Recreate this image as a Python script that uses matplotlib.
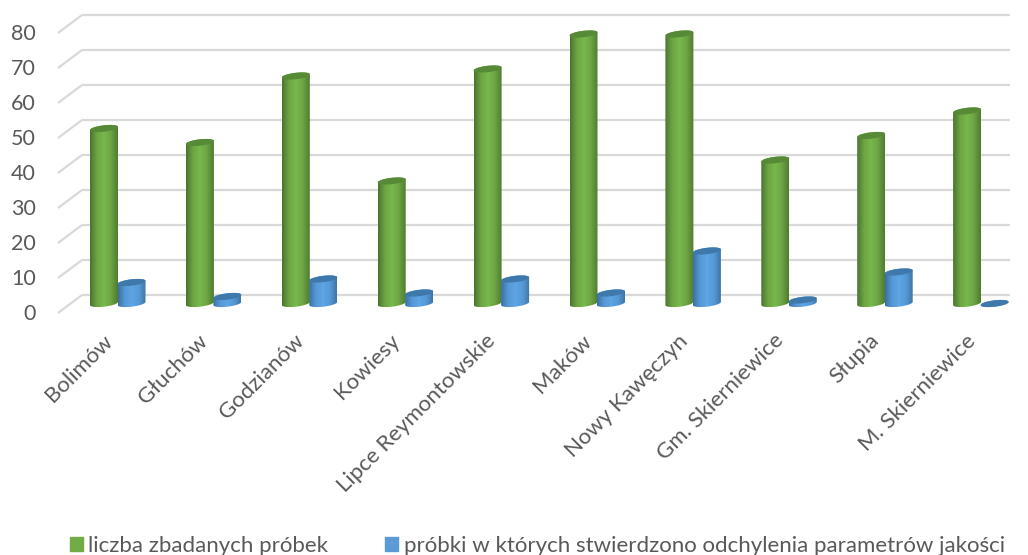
import numpy as np
import matplotlib
matplotlib.use('Agg')
import matplotlib.pyplot as plt
from matplotlib.colors import LinearSegmentedColormap
from matplotlib.patches import Patch, Polygon

plt.rcParams['font.family'] = ['Lato', 'DejaVu Sans']

gminy = ['Bolimów', 'Głuchów', 'Godzianów', 'Kowiesy', 'Lipce Reymontowskie',
         'Maków', 'Nowy Kawęczyn', 'Gm. Skierniewice', 'Słupia', 'M. Skierniewice']
zbadane = [50, 46, 65, 35, 67, 77, 77, 41, 48, 55]
odchylenia = [6, 2, 7, 3, 7, 3, 15, 1, 9, 0]
y_ticks = [0, 10, 20, 30, 40, 50, 60, 70, 80]

nazwa1 = 'liczba zbadanych próbek'
nazwa2 = 'próbki w których stwierdzono odchylenia parametrów jakości'

txt_color = '#595959'
grid_color = '#d9d9d9'

# one x unit = one category, one y unit = one sample, axes fill the whole figure
px_x = 95.9
px_y = 3.5
base_py = 303.5
fig = plt.figure(figsize=(10.28, 5.55), dpi=100)
ax = fig.add_axes([0, 0, 1, 1])
x_lim = (-104 / px_x, (1028 - 104) / px_x)
y_lim = ((base_py - 555) / px_y, base_py / px_y)

# back wall lines and the slanted floor/side lines
for v in y_ticks:
    back = v + (base_py - 295) / px_y
    front = v + (base_py - 313) / px_y
    ax.plot([(82 - 104) / px_x, (1010 - 104) / px_x], [back, back],
            color=grid_color, lw=1.6, zorder=1, solid_capstyle='butt')
    ax.plot([(58 - 104) / px_x, (82 - 104) / px_x], [front, back],
            color=grid_color, lw=1.6, zorder=1, solid_capstyle='butt')
    ax.text((36 - 104) / px_x, front - 0.2, str(v), ha='right', va='center',
            fontsize=15.5, color=txt_color)

green_cm = LinearSegmentedColormap.from_list('g', ['#4a7530', '#6da544', '#77b84b', '#6da544', '#4f7c30'])
blue_cm = LinearSegmentedColormap.from_list('b', ['#3d6f9e', '#559ad8', '#5fa5e3', '#559ad8', '#3f75a6'])
grad = np.linspace(0, 1, 64).reshape(1, -1)
t = np.linspace(0, 2 * np.pi, 80)
half_w = 14 / px_x
rx = half_w
ry = 3.2 / px_y
tilt = 1.6 / px_y


def cylinder(xc, val, cmap, top_color):
    # body = bottom half of lower ellipse + top half of upper one
    t_low = np.linspace(np.pi, 2 * np.pi, 40)
    t_up = np.linspace(0, np.pi, 40)
    xs = np.r_[xc + rx * np.cos(t_low), xc + rx * np.cos(t_up)]
    ys = np.r_[ry * np.sin(t_low) + tilt * np.cos(t_low),
               val + ry * np.sin(t_up) + tilt * np.cos(t_up)]
    body = Polygon(np.c_[xs, ys], closed=True, transform=ax.transData, fc='none', ec='none')
    ax.add_patch(body)
    im = ax.imshow(grad, cmap=cmap, aspect='auto', zorder=3,
                   extent=(xc - half_w, xc + half_w, -3, val + 3))
    im.set_clip_path(body)
    ax.fill(xc + rx * np.cos(t), val + ry * np.sin(t) + tilt * np.cos(t),
            color=top_color, zorder=3.1, lw=0)


for i in range(len(gminy)):
    cylinder(i, zbadane[i], green_cm, '#568a36')
    cylinder(i + 27.5 / px_x, odchylenia[i], blue_cm, '#3f78ab')
    ax.text(i - 2 / px_x, -27 / px_y, gminy[i], rotation=45, rotation_mode='anchor',
            ha='right', va='top', fontsize=16, color=txt_color)

ax.set_xlim(x_lim)
ax.set_ylim(y_lim)
ax.axis('off')

handles = [Patch(color='#70ad47'), Patch(color='#5b9bd5')]
fig.legend(handles, [nazwa1, nazwa2], ncol=2, loc='lower left', bbox_to_anchor=(0.0635, -0.009),
           frameon=False, fontsize=16, labelcolor=txt_color, handlelength=0.58, handleheight=0.6,
           handletextpad=0.26, columnspacing=2.55, borderpad=0.2, borderaxespad=0)

plt.savefig('out.png', dpi=100)
